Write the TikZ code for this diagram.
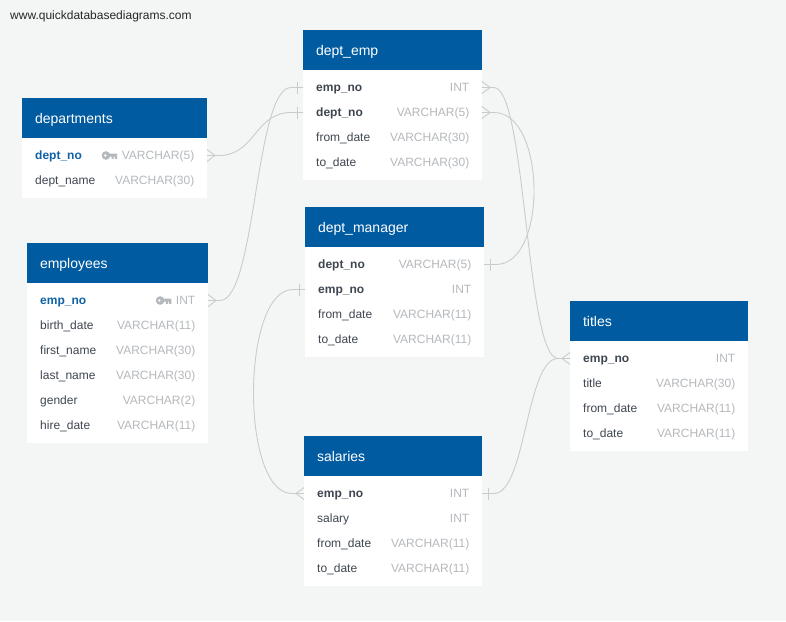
\documentclass[tikz,border=0pt]{standalone}
\usepackage{fontspec}
\setmainfont{Liberation Sans}
\usetikzlibrary{positioning}
\definecolor{pagebg}{HTML}{F4F6F6}
\definecolor{headblue}{HTML}{005BA1}
\definecolor{fieldgray}{HTML}{3F4650}
\definecolor{typegray}{HTML}{B5B9BD}
\definecolor{keyblue}{HTML}{0F62A6}
\definecolor{linkgray}{HTML}{C9CCCC}
\tikzset{
    tablehead/.style={fill=headblue, draw=none, text=white, anchor=north west, minimum height=40pt,
        inner xsep=13pt, inner ysep=0pt, outer sep=0pt, text height=13pt, text depth=2pt, font=\fontsize{14}{16}\selectfont},
    tablebody/.style={fill=white, draw=none, anchor=north, outer sep=0pt, inner sep=0pt},
    rowbox/.style={draw=none, minimum height=25pt, inner sep=0pt, outer sep=0pt},
    fieldname/.style={text=fieldgray, anchor=west, inner sep=0pt, text height=10pt, text depth=2pt, font=\fontsize{12}{14}\selectfont},
    keyname/.style={fieldname, text=keyblue, font=\fontsize{12}{14}\selectfont\bfseries},
    fkname/.style={fieldname, font=\fontsize{12}{14}\selectfont\bfseries},
    typename/.style={text=typegray, anchor=east, inner sep=0pt, text height=10pt, text depth=2pt, font=\fontsize{12}{14}\selectfont},
    link/.style={draw=linkgray, line width=0.9pt},
    crow/.pic={\draw[link] (0,-6) -- (8,0) -- (0,6);},
    barmark/.pic={\draw[link] (6,-6) -- (6,6);},
    dbkey/.pic={
        \fill[typegray, even odd rule] (4.3,0) circle (4.3) (3.6,0) circle (1.6);
        \fill[typegray] (7,-2) rectangle (15.5,1.2) (10,1) rectangle (12,3.4) (13.2,1) rectangle (15.5,3.4);
    }
}
% id, position, width, title, number of rows
\newcommand{\dbtable}[5]{
    \node[tablehead, minimum width=#3pt, text width=#3pt-26pt] (#1) at (#2) {#4};
    \node[tablebody, minimum width=#3pt, minimum height=#5*25pt+10pt] (#1-body) at (#1.south) {};
    \coordinate (#1-top) at ([yshift=-5pt]#1.south);
    \tikzset{rowbox/.append style={minimum width=#3pt}}
}
% id, row above, name style, field, type
\newcommand{\dbrow}[5]{
    \node[rowbox, below=0pt of #2] (#1) {};
    \node[#3] (#1-name) at ([xshift=13pt]#1.west) {#4};
    \node[typename] (#1-type) at ([xshift=-12.5pt]#1.east) {#5};
}
\begin{document}
\begin{tikzpicture}[x=1pt, y=-1pt]
\useasboundingbox[fill=pagebg] (0,0) rectangle (786,621);

\node[text=black!85, anchor=west, inner sep=0pt, font=\fontsize{12}{14}\selectfont] (site) at (10,16) {www.quickdatabasediagrams.com};

% departments
\dbtable{departments}{22,98}{185}{departments}{2}
\dbrow{departments-no}{departments-top}{keyname}{dept\_no}{VARCHAR(5)}
\dbrow{departments-name}{departments-no}{fieldname}{dept\_name}{VARCHAR(30)}
\pic at ([xshift=-20pt]departments-no-type.west) {dbkey};

% employees
\dbtable{employees}{27,243}{181}{employees}{6}
\dbrow{employees-no}{employees-top}{keyname}{emp\_no}{INT}
\dbrow{employees-birth}{employees-no}{fieldname}{birth\_date}{VARCHAR(11)}
\dbrow{employees-first}{employees-birth}{fieldname}{first\_name}{VARCHAR(30)}
\dbrow{employees-last}{employees-first}{fieldname}{last\_name}{VARCHAR(30)}
\dbrow{employees-gender}{employees-last}{fieldname}{gender}{VARCHAR(2)}
\dbrow{employees-hire}{employees-gender}{fieldname}{hire\_date}{VARCHAR(11)}
\pic at ([xshift=-20pt]employees-no-type.west) {dbkey};

% dept_emp
\dbtable{deptemp}{303,30}{179}{dept\_emp}{4}
\dbrow{deptemp-emp}{deptemp-top}{fkname}{emp\_no}{INT}
\dbrow{deptemp-dept}{deptemp-emp}{fkname}{dept\_no}{VARCHAR(5)}
\dbrow{deptemp-from}{deptemp-dept}{fieldname}{from\_date}{VARCHAR(30)}
\dbrow{deptemp-to}{deptemp-from}{fieldname}{to\_date}{VARCHAR(30)}

% dept_manager
\dbtable{deptmgr}{305,207}{179}{dept\_manager}{4}
\dbrow{deptmgr-dept}{deptmgr-top}{fkname}{dept\_no}{VARCHAR(5)}
\dbrow{deptmgr-emp}{deptmgr-dept}{fkname}{emp\_no}{INT}
\dbrow{deptmgr-from}{deptmgr-emp}{fieldname}{from\_date}{VARCHAR(11)}
\dbrow{deptmgr-to}{deptmgr-from}{fieldname}{to\_date}{VARCHAR(11)}

% salaries
\dbtable{salaries}{304,436}{178}{salaries}{4}
\dbrow{salaries-emp}{salaries-top}{fkname}{emp\_no}{INT}
\dbrow{salaries-salary}{salaries-emp}{fieldname}{salary}{INT}
\dbrow{salaries-from}{salaries-salary}{fieldname}{from\_date}{VARCHAR(11)}
\dbrow{salaries-to}{salaries-from}{fieldname}{to\_date}{VARCHAR(11)}

% titles
\dbtable{titles}{570,301}{178}{titles}{4}
\dbrow{titles-emp}{titles-top}{fkname}{emp\_no}{INT}
\dbrow{titles-title}{titles-emp}{fieldname}{title}{VARCHAR(30)}
\dbrow{titles-from}{titles-title}{fieldname}{from\_date}{VARCHAR(11)}
\dbrow{titles-to}{titles-from}{fieldname}{to\_date}{VARCHAR(11)}

% links
\draw[link] (departments-no.east) -- ++(12,0) .. controls +(36,0) and +(-36,0) .. ([xshift=-12pt]deptemp-dept.west) -- (deptemp-dept.west);
\draw[link] (employees-no.east) -- ++(12,0) .. controls +(36,0) and +(-36,0) .. ([xshift=-12pt]deptemp-emp.west) -- (deptemp-emp.west);
\draw[link] (deptemp-dept.east) -- ++(12,0) .. controls +(52,0) and +(52,0) .. ([xshift=12pt]deptmgr-dept.east) -- (deptmgr-dept.east);
\draw[link] (deptemp-emp.east) -- ++(12,0) .. controls +(32,0) and +(-32,0) .. ([xshift=-12pt]titles-emp.west) -- (titles-emp.west);
\draw[link] (salaries-emp.east) -- ++(12,0) .. controls +(32,0) and +(-32,0) .. ([xshift=-12pt]titles-emp.west);
\draw[link] (deptmgr-emp.west) -- ++(-12,0) .. controls +(-52,0) and +(-52,0) .. ([xshift=-12pt]salaries-emp.west) -- (salaries-emp.west);

% line ends
\pic at (departments-no.east) {crow};
\pic at (employees-no.east) {crow};
\pic at (deptemp-emp.east) {crow};
\pic at (deptemp-dept.east) {crow};
\pic at (deptmgr-dept.east) {barmark};
\pic at (salaries-emp.east) {barmark};
\pic[xscale=-1] at (deptemp-emp.west) {barmark};
\pic[xscale=-1] at (deptemp-dept.west) {barmark};
\pic[xscale=-1] at (deptmgr-emp.west) {barmark};
\pic[xscale=-1] at (salaries-emp.west) {crow};
\pic[xscale=-1] at (titles-emp.west) {crow};
\end{tikzpicture}
\end{document}
